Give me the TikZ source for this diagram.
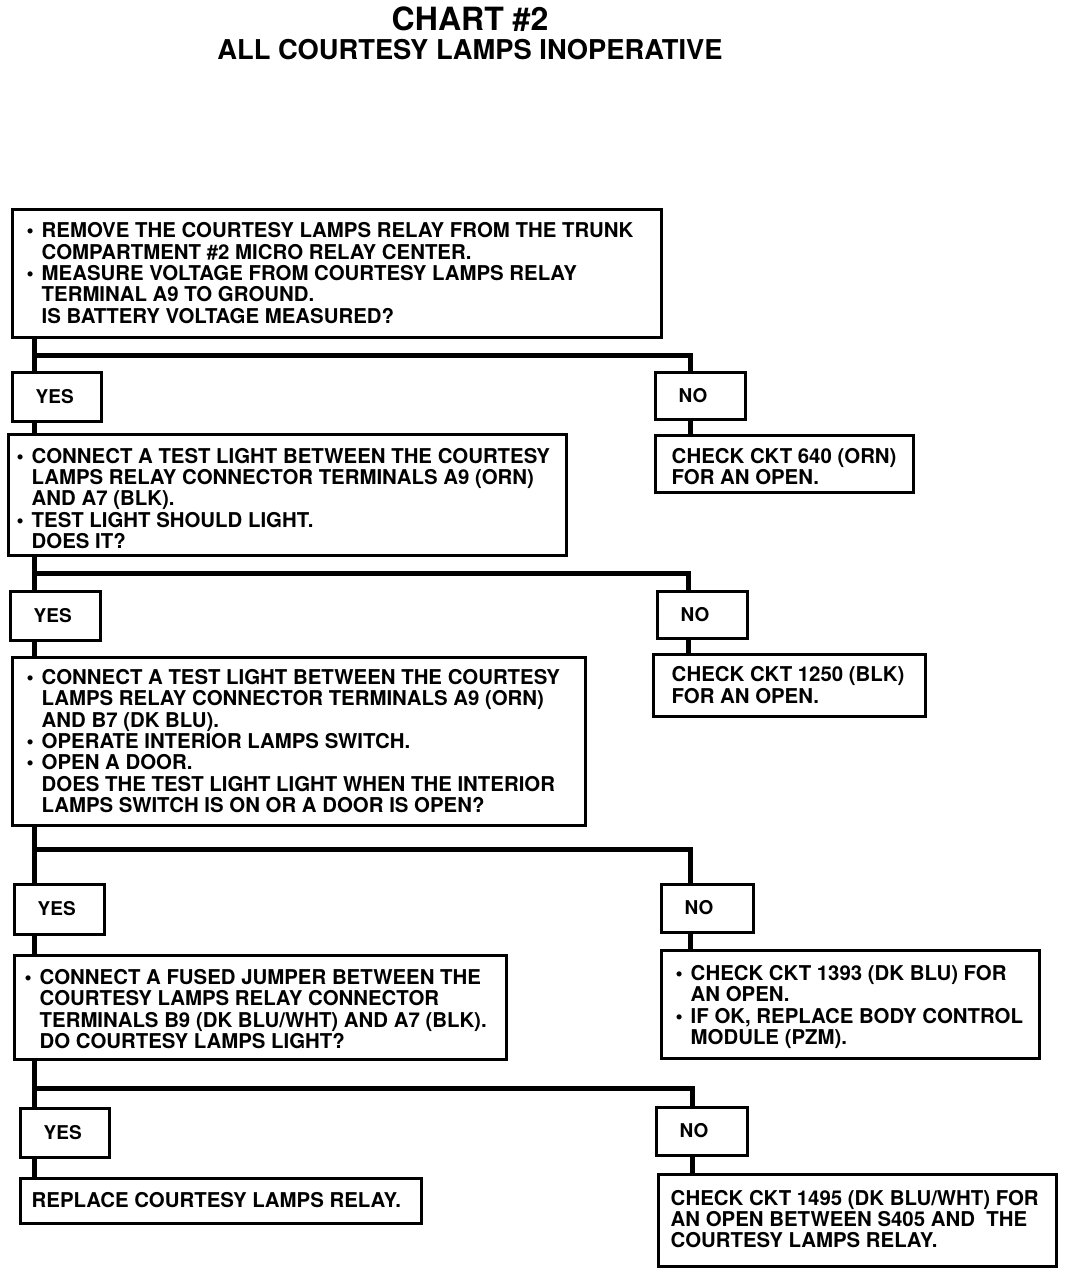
\documentclass[tikz,border=0pt]{standalone}
\usepackage{fontspec}
\setmainfont{TeX Gyre Heros}
\newcommand\bul{\makebox[15pt][l]{\textbullet}}
\newcommand\indt{\hspace*{15pt}}
\begin{document}
\begin{tikzpicture}[x=1pt,y=-1pt,
  box/.style={draw,line width=3pt,fill=white,inner sep=0pt},
  txt/.style={anchor=west,align=left,inner sep=0pt,font=\fontsize{20.4}{21.4}\selectfont\bfseries},
  yntxt/.style={anchor=west,inner sep=0pt,font=\fontsize{19}{21}\selectfont\bfseries},
  conn/.style={line width=5pt,line join=miter}]
\useasboundingbox (0,0) rectangle (1072,1276);
% title
\node[anchor=base,inner sep=0pt,font=\fontsize{32}{34}\selectfont\bfseries] (title) at (470,31) {CHART \#2};
\node[anchor=base,inner sep=0pt,font=\fontsize{27.3}{29}\selectfont\bfseries] (subtitle) at (470,60) {ALL COURTESY LAMPS INOPERATIVE};
% box 1
\node[box,minimum width=649,minimum height=128] (b1) at (336.5,273) {};
\node[txt] (b1t) at ([xshift=16]b1.west) {\bul REMOVE THE COURTESY LAMPS RELAY FROM THE TRUNK\\
\indt COMPARTMENT \#2 MICRO RELAY CENTER.\\
\bul MEASURE VOLTAGE FROM COURTESY LAMPS RELAY\\
\indt TERMINAL A9 TO GROUND.\\
\indt IS BATTERY VOLTAGE MEASURED?};
% yes/no 1
\node[box,minimum width=89,minimum height=49] (y1) at (56.5,396.5) {};
\node[yntxt] (y1t) at ([xshift=25]y1.west) {YES};
\node[box,minimum width=90,minimum height=47] (no1) at (700,395.5) {};
\node[yntxt] (no1t) at ([xshift=25]no1.west) {NO};
% box 2
\node[box,minimum width=558,minimum height=121] (b2) at (287,494.5) {};
\node[txt] (b2t) at ([xshift=10,yshift=-4]b2.west) {\bul CONNECT A TEST LIGHT BETWEEN THE COURTESY\\
\indt LAMPS RELAY CONNECTOR TERMINALS A9 (ORN)\\
\indt AND A7 (BLK).\\
\bul TEST LIGHT SHOULD LIGHT.\\
\indt DOES IT?};
\node[box,minimum width=258,minimum height=57] (n1) at (784,463.5) {};
\node[txt] (n1t) at ([xshift=18,yshift=-3]n1.west) {CHECK CKT 640 (ORN)\\FOR AN OPEN.};
% yes/no 2
\node[box,minimum width=90,minimum height=49] (y2) at (55,615.5) {};
\node[yntxt] (y2t) at ([xshift=25]y2.west) {YES};
\node[box,minimum width=90,minimum height=47] (no2) at (702,614.5) {};
\node[yntxt] (no2t) at ([xshift=25]no2.west) {NO};
% box 3
\node[box,minimum width=573,minimum height=168] (b3) at (298.5,741) {};
\node[txt] (b3t) at ([xshift=16]b3.west) {\bul CONNECT A TEST LIGHT BETWEEN THE COURTESY\\
\indt LAMPS RELAY CONNECTOR TERMINALS A9 (ORN)\\
\indt AND B7 (DK BLU).\\
\bul OPERATE INTERIOR LAMPS SWITCH.\\
\bul OPEN A DOOR.\\
\indt DOES THE TEST LIGHT LIGHT WHEN THE INTERIOR\\
\indt LAMPS SWITCH IS ON OR A DOOR IS OPEN?};
\node[box,minimum width=272,minimum height=62] (n2) at (789,685) {};
\node[txt] (n2t) at ([xshift=20]n2.west) {CHECK CKT 1250 (BLK)\\FOR AN OPEN.};
% yes/no 3
\node[box,minimum width=90,minimum height=50] (y3) at (59,909) {};
\node[yntxt] (y3t) at ([xshift=25]y3.west) {YES};
\node[box,minimum width=92,minimum height=48] (no3) at (707,908) {};
\node[yntxt] (no3t) at ([xshift=25]no3.west) {NO};
% box 4
\node[box,minimum width=492,minimum height=104] (b4) at (260,1007) {};
\node[txt] (b4t) at ([xshift=12,yshift=-2]b4.west) {\bul CONNECT A FUSED JUMPER BETWEEN THE\\
\indt COURTESY LAMPS RELAY CONNECTOR\\
\indt TERMINALS B9 (DK BLU/WHT) AND A7 (BLK).\\
\indt DO COURTESY LAMPS LIGHT?};
\node[box,minimum width=378,minimum height=108] (n3) at (850,1004) {};
\node[txt] (n3t) at ([xshift=16,yshift=-3]n3.west) {\bul CHECK CKT 1393 (DK BLU) FOR\\
\indt AN OPEN.\\
\bul IF OK, REPLACE BODY CONTROL\\
\indt MODULE (PZM).};
% yes/no 4
\node[box,minimum width=89,minimum height=49] (y4) at (64.5,1132.5) {};
\node[yntxt] (y4t) at ([xshift=25]y4.west) {YES};
\node[box,minimum width=91,minimum height=48] (no4) at (701.5,1131) {};
\node[yntxt] (no4t) at ([xshift=25]no4.west) {NO};
% box 5
\node[box,minimum width=401,minimum height=45] (b5) at (220.5,1200.5) {};
\node[txt] (b5t) at ([xshift=13]b5.west) {REPLACE COURTESY LAMPS RELAY.};
\node[box,minimum width=398,minimum height=92] (n4) at (857,1220) {};
\node[txt] (n4t) at ([xshift=14,yshift=1]n4.west) {CHECK CKT 1495 (DK BLU/WHT) FOR\\
AN OPEN BETWEEN S405 AND\ \ THE\\
COURTESY LAMPS RELAY.};
% junctions
\coordinate (t1) at (34,355);  \coordinate (k1) at (690,355);
\coordinate (t2) at (34,573);  \coordinate (k2) at (688,573);
\coordinate (t3) at (34,849);  \coordinate (k3) at (690,849);
\coordinate (t4) at (34,1088); \coordinate (k4) at (692,1088);
% connectors
\draw[conn] (t1 |- b1.south) -- (t1 |- y1.north);
\draw[conn] (t1) -- (k1) -- (k1 |- no1.north);
\draw[conn] (t1 |- y1.south) -- (t1 |- b2.north);
\draw[conn] (k1 |- no1.south) -- (k1 |- n1.north);
\draw[conn] (t2 |- b2.south) -- (t2 |- y2.north);
\draw[conn] (t2) -- (k2) -- (k2 |- no2.north);
\draw[conn] (t2 |- y2.south) -- (t2 |- b3.north);
\draw[conn] (k2 |- no2.south) -- (k2 |- n2.north);
\draw[conn] (t3 |- b3.south) -- (t3 |- y3.north);
\draw[conn] (t3) -- (k3) -- (k3 |- no3.north);
\draw[conn] (t3 |- y3.south) -- (t3 |- b4.north);
\draw[conn] (k3 |- no3.south) -- (k3 |- n3.north);
\draw[conn] (t4 |- b4.south) -- (t4 |- y4.north);
\draw[conn] (t4) -- (k4) -- (k4 |- no4.north);
\draw[conn] (t4 |- y4.south) -- (t4 |- b5.north);
\draw[conn] (k4 |- no4.south) -- (k4 |- n4.north);
\end{tikzpicture}
\end{document}
